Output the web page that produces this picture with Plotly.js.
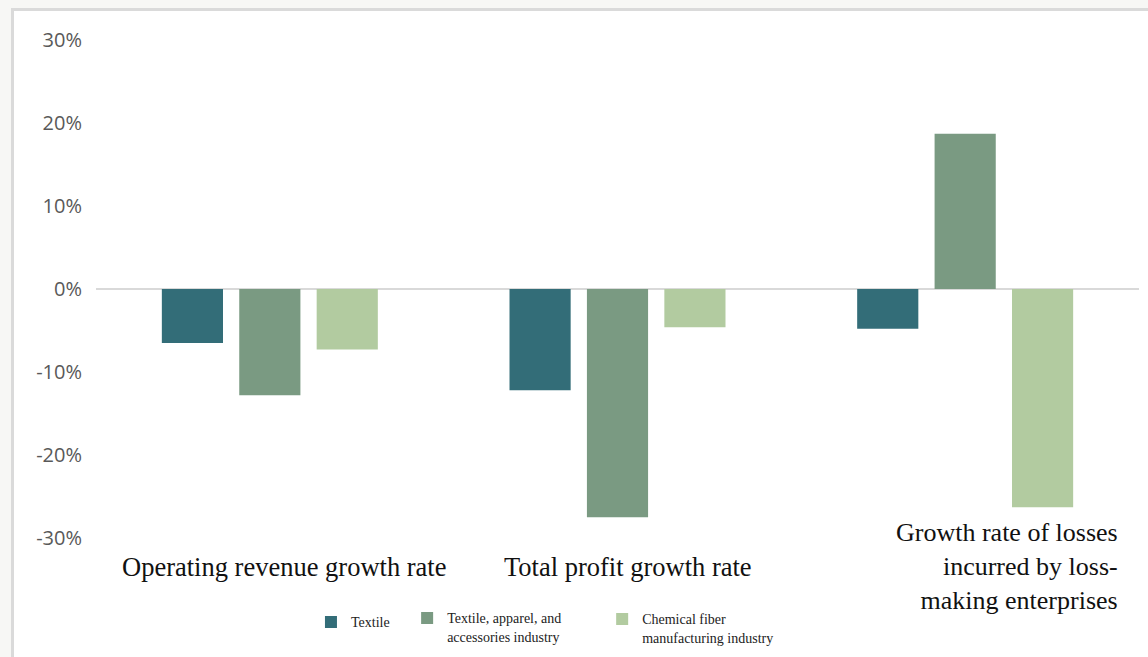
<!DOCTYPE html>
<html>
<head>
<meta charset="utf-8">
<script src="https://cdn.plot.ly/plotly-3.0.1.min.js"></script>
<style>
  html, body { margin: 0; padding: 0; background: #f7f7f5; width: 1148px; height: 657px; overflow: hidden; }
  #chart { position: absolute; left: 11px; top: 8px; width: 1134px; height: 646px;
           border-left: 3px solid #dadada; border-top: 3px solid #dadada; background: #ffffff; }
</style>
</head>
<body>
<div id="chart"></div>
<script>
// Categories (display labels)
const categories = [
  "Operating revenue growth rate",
  "Total profit growth rate",
  "Growth rate of losses<br>incurred by loss-<br>making enterprises"
];
// Series values (%)
const textile  = [-6.5, -12.2, -4.8];
const apparel  = [-12.8, -27.5, 18.7];
const chemical = [-7.3, -4.6, -26.3];
// Series names
const seriesNames = [
  "Textile",
  "Textile, apparel, and<br>accessories industry",
  "Chemical fiber<br>manufacturing industry"
];
// Y tick values and labels
const yTicks = [-30, -20, -10, 0, 10, 20, 30];
const yTickLabels = ["-30%", "-20%", "-10%", "0%", "10%", "20%", "30%"];

const colors = ["#336d78", "#7a9a82", "#b2cba0"];
const serif = "Liberation Serif, Times New Roman, serif";

const traces = [textile, apparel, chemical].map((vals, i) => ({
  type: "bar",
  x: categories,
  y: vals,
  name: seriesNames[i],
  marker: { color: colors[i], line: { width: 0 } },
  legend: i === 0 ? "legend" : "legend" + (i + 1),
  hoverinfo: "skip"
}));

const legendBase = {
  orientation: "v",
  xanchor: "left",
  yanchor: "top",
  bgcolor: "rgba(0,0,0,0)",
  borderwidth: 0,
  font: { family: serif, size: 14, color: "#222222" },
  valign: "top"
};

const layout = {
  width: 1134,
  height: 646,
  margin: { l: 82, r: 9, t: 29, b: 119, autoexpand: false },
  paper_bgcolor: "#ffffff",
  plot_bgcolor: "#ffffff",
  barmode: "group",
  bargap: 0.332,
  bargroupgap: 0.21,
  showlegend: true,
  legend:  Object.assign({}, legendBase, { x: 0.2061, y: -0.1373 }),
  legend2: Object.assign({}, legendBase, { x: 0.2983, y: -0.1293 }),
  legend3: Object.assign({}, legendBase, { x: 0.4853, y: -0.1313 }),
  xaxis: {
    type: "category",
    showticklabels: false,
    showgrid: false,
    showline: false,
    zeroline: false,
    ticks: ""
  },
  yaxis: {
    range: [-30, 30],
    tickmode: "array",
    tickvals: yTicks,
    ticktext: yTickLabels,
    showgrid: false,
    showline: false,
    zeroline: true,
    zerolinecolor: "#d9d9d9",
    zerolinewidth: 2,
    ticks: "",
    ticklabelstandoff: 13,
    tickfont: { family: "Open Sans, sans-serif", size: 20, color: "#595959" }
  },
  annotations: [
    { x: categories[0], y: -30, xref: "x", yref: "y", xanchor: "center", yanchor: "middle",
      xshift: 14, yshift: -29, showarrow: false, text: categories[0], align: "center",
      font: { family: serif, size: 26.5, color: "#111111" } },
    { x: categories[1], y: -30, xref: "x", yref: "y", xanchor: "center", yanchor: "middle",
      xshift: 10, yshift: -29, showarrow: false, text: categories[1], align: "center",
      font: { family: serif, size: 26.5, color: "#111111" } },
    { x: categories[2], y: -30, xref: "x", yref: "y", xanchor: "right", yanchor: "middle",
      xshift: 155, yshift: -28, showarrow: false, text: categories[2], align: "right",
      font: { family: serif, size: 26, color: "#111111" } }
  ]
};

Plotly.newPlot("chart", traces, layout, { displayModeBar: false, staticPlot: true });
</script>
</body>
</html>
